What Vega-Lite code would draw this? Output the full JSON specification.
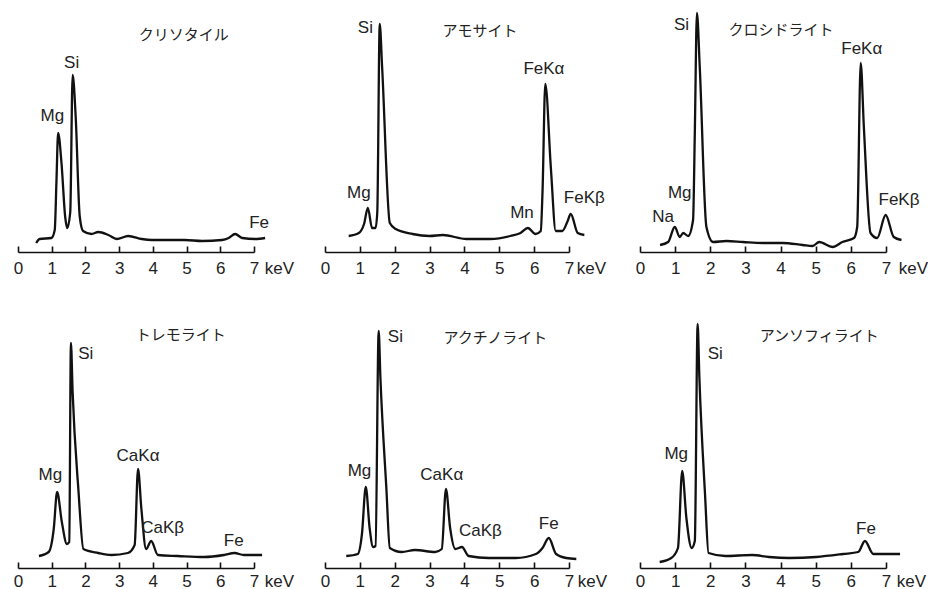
{
  "$schema": "https://vega.github.io/schema/vega-lite/v6.json",
  "autosize": {"type": "pad"},
  "padding": {"left": 13, "top": 7, "right": 0, "bottom": 0},
  "background": "white",
  "columns": 3,
  "spacing": {"column": 71, "row": 71},
  "bounds": "flush",
  "datasets": {
    "spectra": [
      {"mineral": "クリソタイル", "keV": 0.54, "counts": 9},
      {"mineral": "クリソタイル", "keV": 0.64, "counts": 13},
      {"mineral": "クリソタイル", "keV": 0.99, "counts": 14},
      {"mineral": "クリソタイル", "keV": 1.09, "counts": 22},
      {"mineral": "クリソタイル", "keV": 1.14, "counts": 70},
      {"mineral": "クリソタイル", "keV": 1.19, "counts": 119},
      {"mineral": "クリソタイル", "keV": 1.29, "counts": 89},
      {"mineral": "クリソタイル", "keV": 1.40, "counts": 35},
      {"mineral": "クリソタイル", "keV": 1.46, "counts": 24},
      {"mineral": "クリソタイル", "keV": 1.55, "counts": 40},
      {"mineral": "クリソタイル", "keV": 1.62, "counts": 177},
      {"mineral": "クリソタイル", "keV": 1.71, "counts": 136},
      {"mineral": "クリソタイル", "keV": 1.83, "counts": 36},
      {"mineral": "クリソタイル", "keV": 1.93, "counts": 21},
      {"mineral": "クリソタイル", "keV": 2.18, "counts": 18},
      {"mineral": "クリソタイル", "keV": 2.38, "counts": 20},
      {"mineral": "クリソタイル", "keV": 2.68, "counts": 17},
      {"mineral": "クリソタイル", "keV": 2.93, "counts": 13},
      {"mineral": "クリソタイル", "keV": 3.27, "counts": 16},
      {"mineral": "クリソタイル", "keV": 3.67, "counts": 13},
      {"mineral": "クリソタイル", "keV": 3.97, "counts": 12},
      {"mineral": "クリソタイル", "keV": 4.95, "counts": 12},
      {"mineral": "クリソタイル", "keV": 5.46, "counts": 11},
      {"mineral": "クリソタイル", "keV": 6.05, "counts": 12},
      {"mineral": "クリソタイル", "keV": 6.25, "counts": 14},
      {"mineral": "クリソタイル", "keV": 6.44, "counts": 18},
      {"mineral": "クリソタイル", "keV": 6.65, "counts": 14},
      {"mineral": "クリソタイル", "keV": 7.04, "counts": 13},
      {"mineral": "クリソタイル", "keV": 7.33, "counts": 14},

      {"mineral": "アモサイト", "keV": 0.68, "counts": 16},
      {"mineral": "アモサイト", "keV": 0.97, "counts": 19},
      {"mineral": "アモサイト", "keV": 1.12, "counts": 28},
      {"mineral": "アモサイト", "keV": 1.23, "counts": 44},
      {"mineral": "アモサイト", "keV": 1.35, "counts": 24},
      {"mineral": "アモサイト", "keV": 1.45, "counts": 24},
      {"mineral": "アモサイト", "keV": 1.50, "counts": 40},
      {"mineral": "アモサイト", "keV": 1.57, "counts": 228},
      {"mineral": "アモサイト", "keV": 1.64, "counts": 184},
      {"mineral": "アモサイト", "keV": 1.86, "counts": 29},
      {"mineral": "アモサイト", "keV": 2.03, "counts": 23},
      {"mineral": "アモサイト", "keV": 2.51, "counts": 18},
      {"mineral": "アモサイト", "keV": 3.00, "counts": 16},
      {"mineral": "アモサイト", "keV": 3.38, "counts": 17},
      {"mineral": "アモサイト", "keV": 4.06, "counts": 13},
      {"mineral": "アモサイト", "keV": 4.74, "counts": 13},
      {"mineral": "アモサイト", "keV": 5.32, "counts": 16},
      {"mineral": "アモサイト", "keV": 5.61, "counts": 19},
      {"mineral": "アモサイト", "keV": 5.82, "counts": 24},
      {"mineral": "アモサイト", "keV": 6.04, "counts": 18},
      {"mineral": "アモサイト", "keV": 6.19, "counts": 21},
      {"mineral": "アモサイト", "keV": 6.24, "counts": 60},
      {"mineral": "アモサイト", "keV": 6.32, "counts": 168},
      {"mineral": "アモサイト", "keV": 6.48, "counts": 84},
      {"mineral": "アモサイト", "keV": 6.62, "counts": 21},
      {"mineral": "アモサイト", "keV": 6.81, "counts": 21},
      {"mineral": "アモサイト", "keV": 6.95, "counts": 30},
      {"mineral": "アモサイト", "keV": 7.05, "counts": 38},
      {"mineral": "アモサイト", "keV": 7.25, "counts": 19},
      {"mineral": "アモサイト", "keV": 7.44, "counts": 17},

      {"mineral": "クロシドライト", "keV": 0.57, "counts": 7},
      {"mineral": "クロシドライト", "keV": 0.80, "counts": 10},
      {"mineral": "クロシドライト", "keV": 0.99, "counts": 25},
      {"mineral": "クロシドライト", "keV": 1.13, "counts": 15},
      {"mineral": "クロシドライト", "keV": 1.23, "counts": 19},
      {"mineral": "クロシドライト", "keV": 1.37, "counts": 16},
      {"mineral": "クロシドライト", "keV": 1.51, "counts": 32},
      {"mineral": "クロシドライト", "keV": 1.56, "counts": 120},
      {"mineral": "クロシドライト", "keV": 1.62, "counts": 239},
      {"mineral": "クロシドライト", "keV": 1.70, "counts": 185},
      {"mineral": "クロシドライト", "keV": 1.89, "counts": 25},
      {"mineral": "クロシドライト", "keV": 2.08, "counts": 10},
      {"mineral": "クロシドライト", "keV": 2.46, "counts": 11},
      {"mineral": "クロシドライト", "keV": 2.93, "counts": 10},
      {"mineral": "クロシドライト", "keV": 3.49, "counts": 9},
      {"mineral": "クロシドライト", "keV": 4.06, "counts": 9},
      {"mineral": "クロシドライト", "keV": 4.63, "counts": 7},
      {"mineral": "クロシドライト", "keV": 4.91, "counts": 6},
      {"mineral": "クロシドライト", "keV": 5.10, "counts": 10},
      {"mineral": "クロシドライト", "keV": 5.48, "counts": 5},
      {"mineral": "クロシドライト", "keV": 5.76, "counts": 10},
      {"mineral": "クロシドライト", "keV": 6.09, "counts": 14},
      {"mineral": "クロシドライト", "keV": 6.18, "counts": 25},
      {"mineral": "クロシドライト", "keV": 6.28, "counts": 189},
      {"mineral": "クロシドライト", "keV": 6.37, "counts": 125},
      {"mineral": "クロシドライト", "keV": 6.56, "counts": 19},
      {"mineral": "クロシドライト", "keV": 6.75, "counts": 14},
      {"mineral": "クロシドライト", "keV": 6.99, "counts": 37},
      {"mineral": "クロシドライト", "keV": 7.22, "counts": 15},
      {"mineral": "クロシドライト", "keV": 7.44, "counts": 12},

      {"mineral": "トレモライト", "keV": 0.62, "counts": 12},
      {"mineral": "トレモライト", "keV": 0.91, "counts": 16},
      {"mineral": "トレモライト", "keV": 1.06, "counts": 39},
      {"mineral": "トレモライト", "keV": 1.16, "counts": 76},
      {"mineral": "トレモライト", "keV": 1.30, "counts": 46},
      {"mineral": "トレモライト", "keV": 1.45, "counts": 24},
      {"mineral": "トレモライト", "keV": 1.52, "counts": 26},
      {"mineral": "トレモライト", "keV": 1.57, "counts": 225},
      {"mineral": "トレモライト", "keV": 1.62, "counts": 176},
      {"mineral": "トレモライト", "keV": 1.79, "counts": 79},
      {"mineral": "トレモライト", "keV": 1.94, "counts": 19},
      {"mineral": "トレモライト", "keV": 2.38, "counts": 15},
      {"mineral": "トレモライト", "keV": 2.77, "counts": 13},
      {"mineral": "トレモライト", "keV": 3.26, "counts": 15},
      {"mineral": "トレモライト", "keV": 3.46, "counts": 23},
      {"mineral": "トレモライト", "keV": 3.56, "counts": 99},
      {"mineral": "トレモライト", "keV": 3.66, "counts": 59},
      {"mineral": "トレモライト", "keV": 3.80, "counts": 19},
      {"mineral": "トレモライト", "keV": 3.95, "counts": 27},
      {"mineral": "トレモライト", "keV": 4.15, "counts": 13},
      {"mineral": "トレモライト", "keV": 4.74, "counts": 12},
      {"mineral": "トレモライト", "keV": 5.52, "counts": 11},
      {"mineral": "トレモライト", "keV": 6.11, "counts": 13},
      {"mineral": "トレモライト", "keV": 6.42, "counts": 15},
      {"mineral": "トレモライト", "keV": 6.70, "counts": 13},
      {"mineral": "トレモライト", "keV": 7.24, "counts": 13},

      {"mineral": "アクチノライト", "keV": 0.61, "counts": 12},
      {"mineral": "アクチノライト", "keV": 0.94, "counts": 14},
      {"mineral": "アクチノライト", "keV": 1.06, "counts": 34},
      {"mineral": "アクチノライト", "keV": 1.17, "counts": 81},
      {"mineral": "アクチノライト", "keV": 1.28, "counts": 40},
      {"mineral": "アクチノライト", "keV": 1.38, "counts": 21},
      {"mineral": "アクチノライト", "keV": 1.45, "counts": 22},
      {"mineral": "アクチノライト", "keV": 1.54, "counts": 237},
      {"mineral": "アクチノライト", "keV": 1.59, "counts": 190},
      {"mineral": "アクチノライト", "keV": 1.76, "counts": 80},
      {"mineral": "アクチノライト", "keV": 1.86, "counts": 20},
      {"mineral": "アクチノライト", "keV": 2.20, "counts": 16},
      {"mineral": "アクチノライト", "keV": 2.58, "counts": 18},
      {"mineral": "アクチノライト", "keV": 3.16, "counts": 16},
      {"mineral": "アクチノライト", "keV": 3.35, "counts": 19},
      {"mineral": "アクチノライト", "keV": 3.47, "counts": 79},
      {"mineral": "アクチノライト", "keV": 3.59, "counts": 40},
      {"mineral": "アクチノライト", "keV": 3.74, "counts": 19},
      {"mineral": "アクチノライト", "keV": 3.93, "counts": 21},
      {"mineral": "アクチノライト", "keV": 4.12, "counts": 12},
      {"mineral": "アクチノライト", "keV": 4.70, "counts": 10},
      {"mineral": "アクチノライト", "keV": 5.47, "counts": 10},
      {"mineral": "アクチノライト", "keV": 6.05, "counts": 14},
      {"mineral": "アクチノライト", "keV": 6.24, "counts": 20},
      {"mineral": "アクチノライト", "keV": 6.42, "counts": 30},
      {"mineral": "アクチノライト", "keV": 6.63, "counts": 14},
      {"mineral": "アクチノライト", "keV": 6.92, "counts": 10},
      {"mineral": "アクチノライト", "keV": 7.21, "counts": 9},

      {"mineral": "アンソフィライト", "keV": 0.56, "counts": 6},
      {"mineral": "アンソフィライト", "keV": 0.89, "counts": 10},
      {"mineral": "アンソフィライト", "keV": 1.08, "counts": 20},
      {"mineral": "アンソフィライト", "keV": 1.20, "counts": 97},
      {"mineral": "アンソフィライト", "keV": 1.32, "counts": 50},
      {"mineral": "アンソフィライト", "keV": 1.47, "counts": 20},
      {"mineral": "アンソフィライト", "keV": 1.56, "counts": 27},
      {"mineral": "アンソフィライト", "keV": 1.64, "counts": 244},
      {"mineral": "アンソフィライト", "keV": 1.69, "counts": 190},
      {"mineral": "アンソフィライト", "keV": 1.85, "counts": 74},
      {"mineral": "アンソフィライト", "keV": 1.95, "counts": 15},
      {"mineral": "アンソフィライト", "keV": 2.43, "counts": 12},
      {"mineral": "アンソフィライト", "keV": 3.19, "counts": 13},
      {"mineral": "アンソフィライト", "keV": 3.67, "counts": 11},
      {"mineral": "アンソフィライト", "keV": 4.24, "counts": 10},
      {"mineral": "アンソフィライト", "keV": 5.01, "counts": 11},
      {"mineral": "アンソフィライト", "keV": 5.78, "counts": 14},
      {"mineral": "アンソフィライト", "keV": 6.21, "counts": 16},
      {"mineral": "アンソフィライト", "keV": 6.40, "counts": 27},
      {"mineral": "アンソフィライト", "keV": 6.64, "counts": 14},
      {"mineral": "アンソフィライト", "keV": 7.02, "counts": 14},
      {"mineral": "アンソフィライト", "keV": 7.40, "counts": 14}
    ],
    "labels": [
      {"mineral": "クリソタイル", "kind": "peak", "label": "Mg", "keV": 1.02, "counts": 136},
      {"mineral": "クリソタイル", "kind": "peak", "label": "Si", "keV": 1.59, "counts": 189},
      {"mineral": "クリソタイル", "kind": "peak", "label": "Fe", "keV": 7.15, "counts": 29},
      {"mineral": "クリソタイル", "kind": "name", "label": "クリソタイル", "keV": 4.92, "counts": 217},

      {"mineral": "アモサイト", "kind": "peak", "label": "Mg", "keV": 0.97, "counts": 59},
      {"mineral": "アモサイト", "kind": "peak", "label": "Si", "keV": 1.16, "counts": 224},
      {"mineral": "アモサイト", "kind": "peak", "label": "Mn", "keV": 5.65, "counts": 39},
      {"mineral": "アモサイト", "kind": "peak", "label": "FeKα", "keV": 6.28, "counts": 183},
      {"mineral": "アモサイト", "kind": "peak", "label": "FeKβ", "keV": 7.44, "counts": 54},
      {"mineral": "アモサイト", "kind": "name", "label": "アモサイト", "keV": 4.45, "counts": 221},

      {"mineral": "クロシドライト", "kind": "peak", "label": "Na", "keV": 0.66, "counts": 35},
      {"mineral": "クロシドライト", "kind": "peak", "label": "Mg", "keV": 1.13, "counts": 59},
      {"mineral": "クロシドライト", "kind": "peak", "label": "Si", "keV": 1.18, "counts": 227},
      {"mineral": "クロシドライト", "kind": "peak", "label": "FeKα", "keV": 6.31, "counts": 203},
      {"mineral": "クロシドライト", "kind": "peak", "label": "FeKβ", "keV": 7.37, "counts": 52},
      {"mineral": "クロシドライト", "kind": "name", "label": "クロシドライト", "keV": 4.01, "counts": 222},

      {"mineral": "トレモライト", "kind": "peak", "label": "Mg", "keV": 0.96, "counts": 93},
      {"mineral": "トレモライト", "kind": "peak", "label": "Si", "keV": 2.01, "counts": 214},
      {"mineral": "トレモライト", "kind": "peak", "label": "CaKα", "keV": 3.56, "counts": 112},
      {"mineral": "トレモライト", "kind": "peak", "label": "CaKβ", "keV": 4.29, "counts": 40},
      {"mineral": "トレモライト", "kind": "peak", "label": "Fe", "keV": 6.40, "counts": 27},
      {"mineral": "トレモライト", "kind": "name", "label": "トレモライト", "keV": 4.83, "counts": 233},

      {"mineral": "アクチノライト", "kind": "peak", "label": "Mg", "keV": 0.99, "counts": 97},
      {"mineral": "アクチノライト", "kind": "peak", "label": "Si", "keV": 2.02, "counts": 231},
      {"mineral": "アクチノライト", "kind": "peak", "label": "CaKα", "keV": 3.35, "counts": 93},
      {"mineral": "アクチノライト", "kind": "peak", "label": "CaKβ", "keV": 4.46, "counts": 37},
      {"mineral": "アクチノライト", "kind": "peak", "label": "Fe", "keV": 6.42, "counts": 44},
      {"mineral": "アクチノライト", "kind": "name", "label": "アクチノライト", "keV": 4.89, "counts": 230},

      {"mineral": "アンソフィライト", "kind": "peak", "label": "Mg", "keV": 1.03, "counts": 114},
      {"mineral": "アンソフィライト", "kind": "peak", "label": "Si", "keV": 2.14, "counts": 214},
      {"mineral": "アンソフィライト", "kind": "peak", "label": "Fe", "keV": 6.43, "counts": 39},
      {"mineral": "アンソフィライト", "kind": "name", "label": "アンソフィライト", "keV": 5.10, "counts": 232}
    ]
  },
  "concat": [
    {
      "width": 236, "height": 245,
      "layer": [
        {"data": {"name": "spectra"}, "transform": [{"filter": "datum.mineral === 'クリソタイル'"}],
         "mark": {"type": "line", "color": "#111", "strokeWidth": 2.3, "strokeJoin": "round", "interpolate": "monotone", "clip": false},
         "encoding": {"x": {"field": "keV", "type": "quantitative", "title": "keV", "scale": {"domain": [0, 7], "nice": false}, "axis": {"values": [0,1,2,3,4,5,6,7], "format": "d", "titleX": 261}},
                      "y": {"field": "counts", "type": "quantitative", "scale": {"domain": [0, 245], "nice": false}, "axis": null}}},
        {"data": {"name": "labels"}, "transform": [{"filter": "datum.mineral === 'クリソタイル' && datum.kind === 'peak'"}],
         "mark": {"type": "text", "font": "Liberation Sans", "fontSize": 17, "color": "#222", "align": "center", "baseline": "middle"},
         "encoding": {"x": {"field": "keV", "type": "quantitative", "title": "keV", "axis": {"values": [0,1,2,3,4,5,6,7], "format": "d", "titleX": 261}}, "y": {"field": "counts", "type": "quantitative", "axis": null}, "text": {"field": "label"}}},
        {"data": {"name": "labels"}, "transform": [{"filter": "datum.mineral === 'クリソタイル' && datum.kind === 'name'"}],
         "mark": {"type": "text", "font": "Noto Sans CJK JP", "fontSize": 15, "color": "#222", "align": "center", "baseline": "middle"},
         "encoding": {"x": {"field": "keV", "type": "quantitative", "title": "keV", "axis": {"values": [0,1,2,3,4,5,6,7], "format": "d", "titleX": 261}}, "y": {"field": "counts", "type": "quantitative", "axis": null}, "text": {"field": "label"}}}
      ]
    },
    {
      "width": 244, "height": 245,
      "layer": [
        {"data": {"name": "spectra"}, "transform": [{"filter": "datum.mineral === 'アモサイト'"}],
         "mark": {"type": "line", "color": "#111", "strokeWidth": 2.3, "strokeJoin": "round", "interpolate": "monotone", "clip": false},
         "encoding": {"x": {"field": "keV", "type": "quantitative", "title": "keV", "scale": {"domain": [0, 7], "nice": false}, "axis": {"values": [0,1,2,3,4,5,6,7], "format": "d", "titleX": 266}},
                      "y": {"field": "counts", "type": "quantitative", "scale": {"domain": [0, 245], "nice": false}, "axis": null}}},
        {"data": {"name": "labels"}, "transform": [{"filter": "datum.mineral === 'アモサイト' && datum.kind === 'peak'"}],
         "mark": {"type": "text", "font": "Liberation Sans", "fontSize": 17, "color": "#222", "align": "center", "baseline": "middle"},
         "encoding": {"x": {"field": "keV", "type": "quantitative", "title": "keV", "axis": {"values": [0,1,2,3,4,5,6,7], "format": "d", "titleX": 266}}, "y": {"field": "counts", "type": "quantitative", "axis": null}, "text": {"field": "label"}}},
        {"data": {"name": "labels"}, "transform": [{"filter": "datum.mineral === 'アモサイト' && datum.kind === 'name'"}],
         "mark": {"type": "text", "font": "Noto Sans CJK JP", "fontSize": 15, "color": "#222", "align": "center", "baseline": "middle"},
         "encoding": {"x": {"field": "keV", "type": "quantitative", "title": "keV", "axis": {"values": [0,1,2,3,4,5,6,7], "format": "d", "titleX": 266}}, "y": {"field": "counts", "type": "quantitative", "axis": null}, "text": {"field": "label"}}}
      ]
    },
    {
      "width": 246, "height": 245,
      "layer": [
        {"data": {"name": "spectra"}, "transform": [{"filter": "datum.mineral === 'クロシドライト'"}],
         "mark": {"type": "line", "color": "#111", "strokeWidth": 2.3, "strokeJoin": "round", "interpolate": "monotone", "clip": false},
         "encoding": {"x": {"field": "keV", "type": "quantitative", "title": "keV", "scale": {"domain": [0, 7], "nice": false}, "axis": {"values": [0,1,2,3,4,5,6,7], "format": "d", "titleX": 273}},
                      "y": {"field": "counts", "type": "quantitative", "scale": {"domain": [0, 245], "nice": false}, "axis": null}}},
        {"data": {"name": "labels"}, "transform": [{"filter": "datum.mineral === 'クロシドライト' && datum.kind === 'peak'"}],
         "mark": {"type": "text", "font": "Liberation Sans", "fontSize": 17, "color": "#222", "align": "center", "baseline": "middle"},
         "encoding": {"x": {"field": "keV", "type": "quantitative", "title": "keV", "axis": {"values": [0,1,2,3,4,5,6,7], "format": "d", "titleX": 273}}, "y": {"field": "counts", "type": "quantitative", "axis": null}, "text": {"field": "label"}}},
        {"data": {"name": "labels"}, "transform": [{"filter": "datum.mineral === 'クロシドライト' && datum.kind === 'name'"}],
         "mark": {"type": "text", "font": "Noto Sans CJK JP", "fontSize": 15, "color": "#222", "align": "center", "baseline": "middle"},
         "encoding": {"x": {"field": "keV", "type": "quantitative", "title": "keV", "axis": {"values": [0,1,2,3,4,5,6,7], "format": "d", "titleX": 273}}, "y": {"field": "counts", "type": "quantitative", "axis": null}, "text": {"field": "label"}}}
      ]
    },
    {
      "width": 236, "height": 245,
      "layer": [
        {"data": {"name": "spectra"}, "transform": [{"filter": "datum.mineral === 'トレモライト'"}],
         "mark": {"type": "line", "color": "#111", "strokeWidth": 2.3, "strokeJoin": "round", "interpolate": "monotone", "clip": false},
         "encoding": {"x": {"field": "keV", "type": "quantitative", "title": "keV", "scale": {"domain": [0, 7], "nice": false}, "axis": {"values": [0,1,2,3,4,5,6,7], "format": "d", "titleX": 261, "labelPadding": 11, "titleY": 13}},
                      "y": {"field": "counts", "type": "quantitative", "scale": {"domain": [0, 245], "nice": false}, "axis": null}}},
        {"data": {"name": "labels"}, "transform": [{"filter": "datum.mineral === 'トレモライト' && datum.kind === 'peak'"}],
         "mark": {"type": "text", "font": "Liberation Sans", "fontSize": 17, "color": "#222", "align": "center", "baseline": "middle"},
         "encoding": {"x": {"field": "keV", "type": "quantitative", "title": "keV", "axis": {"values": [0,1,2,3,4,5,6,7], "format": "d", "titleX": 261, "labelPadding": 11, "titleY": 13}}, "y": {"field": "counts", "type": "quantitative", "axis": null}, "text": {"field": "label"}}},
        {"data": {"name": "labels"}, "transform": [{"filter": "datum.mineral === 'トレモライト' && datum.kind === 'name'"}],
         "mark": {"type": "text", "font": "Noto Sans CJK JP", "fontSize": 15, "color": "#222", "align": "center", "baseline": "middle"},
         "encoding": {"x": {"field": "keV", "type": "quantitative", "title": "keV", "axis": {"values": [0,1,2,3,4,5,6,7], "format": "d", "titleX": 261, "labelPadding": 11, "titleY": 13}}, "y": {"field": "counts", "type": "quantitative", "axis": null}, "text": {"field": "label"}}}
      ]
    },
    {
      "width": 244, "height": 245,
      "layer": [
        {"data": {"name": "spectra"}, "transform": [{"filter": "datum.mineral === 'アクチノライト'"}],
         "mark": {"type": "line", "color": "#111", "strokeWidth": 2.3, "strokeJoin": "round", "interpolate": "monotone", "clip": false},
         "encoding": {"x": {"field": "keV", "type": "quantitative", "title": "keV", "scale": {"domain": [0, 7], "nice": false}, "axis": {"values": [0,1,2,3,4,5,6,7], "format": "d", "titleX": 267, "labelPadding": 11, "titleY": 13}},
                      "y": {"field": "counts", "type": "quantitative", "scale": {"domain": [0, 245], "nice": false}, "axis": null}}},
        {"data": {"name": "labels"}, "transform": [{"filter": "datum.mineral === 'アクチノライト' && datum.kind === 'peak'"}],
         "mark": {"type": "text", "font": "Liberation Sans", "fontSize": 17, "color": "#222", "align": "center", "baseline": "middle"},
         "encoding": {"x": {"field": "keV", "type": "quantitative", "title": "keV", "axis": {"values": [0,1,2,3,4,5,6,7], "format": "d", "titleX": 267, "labelPadding": 11, "titleY": 13}}, "y": {"field": "counts", "type": "quantitative", "axis": null}, "text": {"field": "label"}}},
        {"data": {"name": "labels"}, "transform": [{"filter": "datum.mineral === 'アクチノライト' && datum.kind === 'name'"}],
         "mark": {"type": "text", "font": "Noto Sans CJK JP", "fontSize": 15, "color": "#222", "align": "center", "baseline": "middle"},
         "encoding": {"x": {"field": "keV", "type": "quantitative", "title": "keV", "axis": {"values": [0,1,2,3,4,5,6,7], "format": "d", "titleX": 267, "labelPadding": 11, "titleY": 13}}, "y": {"field": "counts", "type": "quantitative", "axis": null}, "text": {"field": "label"}}}
      ]
    },
    {
      "width": 246, "height": 245,
      "layer": [
        {"data": {"name": "spectra"}, "transform": [{"filter": "datum.mineral === 'アンソフィライト'"}],
         "mark": {"type": "line", "color": "#111", "strokeWidth": 2.3, "strokeJoin": "round", "interpolate": "monotone", "clip": false},
         "encoding": {"x": {"field": "keV", "type": "quantitative", "title": "keV", "scale": {"domain": [0, 7], "nice": false}, "axis": {"values": [0,1,2,3,4,5,6,7], "format": "d", "titleX": 271, "labelPadding": 11, "titleY": 13}},
                      "y": {"field": "counts", "type": "quantitative", "scale": {"domain": [0, 245], "nice": false}, "axis": null}}},
        {"data": {"name": "labels"}, "transform": [{"filter": "datum.mineral === 'アンソフィライト' && datum.kind === 'peak'"}],
         "mark": {"type": "text", "font": "Liberation Sans", "fontSize": 17, "color": "#222", "align": "center", "baseline": "middle"},
         "encoding": {"x": {"field": "keV", "type": "quantitative", "title": "keV", "axis": {"values": [0,1,2,3,4,5,6,7], "format": "d", "titleX": 271, "labelPadding": 11, "titleY": 13}}, "y": {"field": "counts", "type": "quantitative", "axis": null}, "text": {"field": "label"}}},
        {"data": {"name": "labels"}, "transform": [{"filter": "datum.mineral === 'アンソフィライト' && datum.kind === 'name'"}],
         "mark": {"type": "text", "font": "Noto Sans CJK JP", "fontSize": 15, "color": "#222", "align": "center", "baseline": "middle"},
         "encoding": {"x": {"field": "keV", "type": "quantitative", "title": "keV", "axis": {"values": [0,1,2,3,4,5,6,7], "format": "d", "titleX": 271, "labelPadding": 11, "titleY": 13}}, "y": {"field": "counts", "type": "quantitative", "axis": null}, "text": {"field": "label"}}}
      ]
    }
  ],
  "config": {
    "view": {"stroke": null},
    "axisX": {
      "grid": false, "ticks": true,
      "domainColor": "#111", "domainWidth": 1.6,
      "tickColor": "#111", "tickWidth": 1.6, "tickSize": -6,
      "labelFont": "Liberation Sans", "labelFontSize": 17, "labelColor": "#222", "labelPadding": 14,
      "labelFlush": false, "labelOverlap": false,
      "titleFont": "Liberation Sans", "titleFontSize": 17, "titleFontWeight": "normal", "titleColor": "#222",
      "titleAngle": 0, "titleAlign": "center", "titleBaseline": "middle", "titleY": 16
    }
  }
}
